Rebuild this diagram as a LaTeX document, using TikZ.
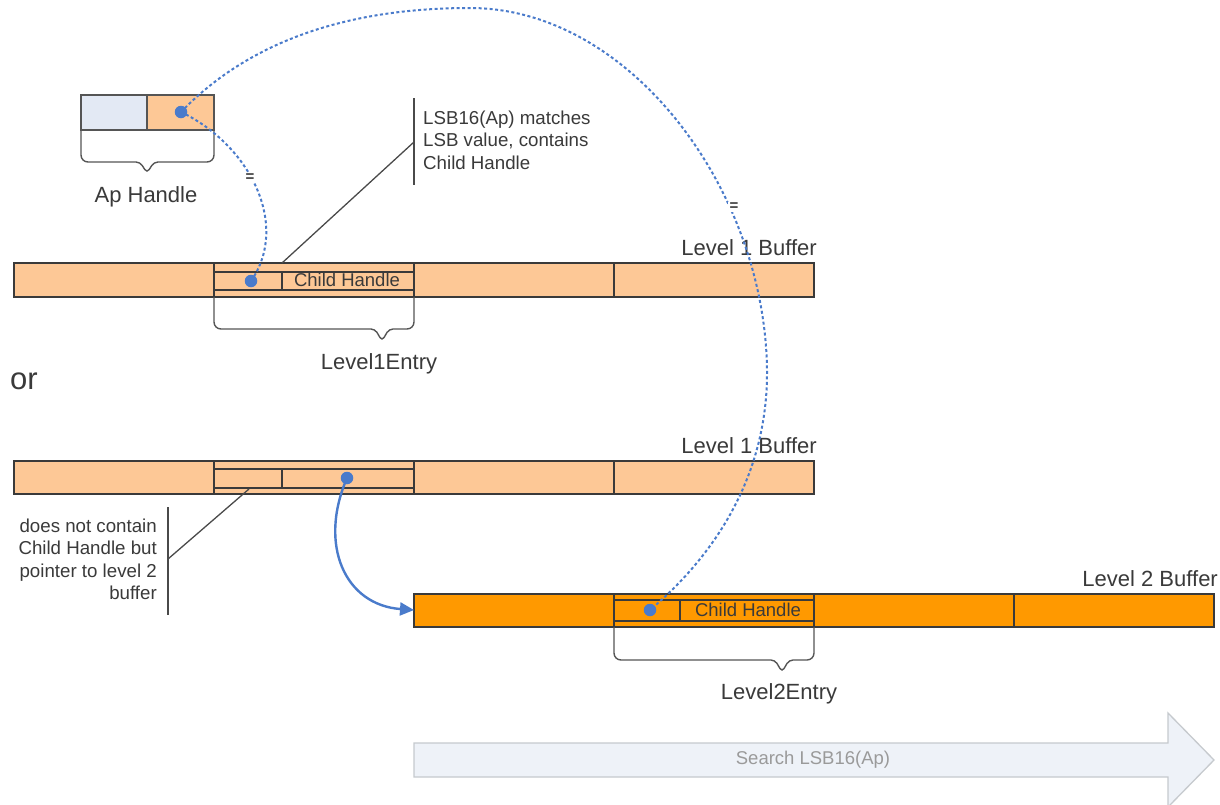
\documentclass[tikz,border=0pt]{standalone}
\usepackage{fontspec}
\setmainfont{Liberation Sans}
\usetikzlibrary{arrows.meta}

\definecolor{lightorange}{HTML}{FDC896}
\definecolor{deeporange}{HTML}{FF9900}
\definecolor{paleblue}{HTML}{E3E9F4}
\definecolor{edge}{HTML}{3A3A3A}
\definecolor{braceedge}{HTML}{555555}
\definecolor{leadgray}{HTML}{4A4A4A}
\definecolor{linkblue}{HTML}{4A7BCB}
\definecolor{txt}{HTML}{3A3A3A}
\definecolor{searchfill}{HTML}{EEF2F8}
\definecolor{searchedge}{HTML}{C6CACE}
\definecolor{searchtxt}{HTML}{9A9A9A}

\begin{document}
\begin{tikzpicture}[x=1pt,y=-1pt,
  outline/.style={draw=edge, line width=1.5pt},
  lbl/.style={text=txt, inner sep=0pt, font=\fontsize{22}{26}\selectfont},
  celltext/.style={text=txt, inner sep=0pt, font=\fontsize{18.5}{22}\selectfont},
  note/.style={text=txt, inner sep=0pt, font=\fontsize{18.7}{22.2}\selectfont},
  dot/.style={circle, fill=linkblue, inner sep=0pt, minimum size=12.5pt},
  eqlink/.style={draw=linkblue, line width=2pt, dash pattern=on 3pt off 2.5pt},
  pointer/.style={draw=linkblue, line width=2.4pt, -{Triangle[length=14pt,width=13pt]}},
  brace/.style={draw=braceedge, line width=1.4pt},
  leader/.style={draw=leadgray, line width=1.3pt},
  eqsign/.style={text=txt, fill=white, inner sep=1.5pt, font=\fontsize{15}{15}\selectfont\bfseries}
]
\useasboundingbox (0,0) rectangle (1220,804);
\fill[white] (0,0) rectangle (1220,804);

% ---------- Ap handle ----------
\fill[paleblue] (81,95) rectangle (147,130);
\fill[lightorange] (147,95) rectangle (214,130);
\draw[outline, draw=braceedge] (81,95) rectangle (214,130) (147,95) -- (147,130);
\draw[brace] (81,130) [rounded corners=7pt] -- (81,162) [rounded corners=4pt] -- (140,162) -- (147,173) -- (154,162) [rounded corners=7pt] -- (214,162) -- (214,130);
\node[lbl, anchor=base] (aplabel) at (146,202) {Ap Handle};

% ---------- Level 1 buffer (first case) ----------
\fill[lightorange] (14,263) rectangle (814,297);
\draw[outline] (14,263) rectangle (814,297);
\draw[outline] (214,263) -- (214,297) (414,263) -- (414,297) (614,263) -- (614,297)
  (214,272) -- (414,272) (214,290) -- (414,290) (282,272) -- (282,290);
\draw[brace] (214,297) [rounded corners=7pt] -- (214,329) [rounded corners=4pt] -- (375,329) -- (382,341) -- (389,329) [rounded corners=7pt] -- (414,329) -- (414,297);
\node[celltext] (l1child) at (347,280) {Child Handle};
\node[lbl, anchor=base east] (l1name) at (817,255) {Level 1 Buffer};
\node[lbl, anchor=base] (l1entry) at (379,369) {Level1Entry};

% ---------- "or" ----------
\node[text=txt, inner sep=0pt, font=\fontsize{31}{31}\selectfont] (orword) at (24,381) {or};

% ---------- Level 1 buffer (second case) ----------
\fill[lightorange] (14,461) rectangle (814,494);
\draw[outline] (14,461) rectangle (814,494);
\draw[outline] (214,461) -- (214,494) (414,461) -- (414,494) (614,461) -- (614,494)
  (214,469) -- (414,469) (214,488) -- (414,488) (282,469) -- (282,488);
\node[lbl, anchor=base east] (l1bname) at (817,453) {Level 1 Buffer};

% ---------- Level 2 buffer ----------
\fill[deeporange] (414,594) rectangle (1214,627);
\draw[outline] (414,594) rectangle (1214,627);
\draw[outline] (614,594) -- (614,627) (814,594) -- (814,627) (1014,594) -- (1014,627)
  (614,600) -- (814,600) (614,621) -- (814,621) (680,600) -- (680,621);
\draw[brace] (614,627) [rounded corners=7pt] -- (614,660) [rounded corners=4pt] -- (775,660) -- (782,672) -- (789,660) [rounded corners=7pt] -- (814,660) -- (814,627);
\node[celltext] (l2child) at (748,610) {Child Handle};
\node[lbl, anchor=base east] (l2name) at (1218,586) {Level 2 Buffer};
\node[lbl, anchor=base] (l2entry) at (779,699) {Level2Entry};

% ---------- callouts ----------
\draw[leader] (414,98) -- (414,185);
\coordinate (noteAfoot) at (414,142);
\coordinate (l1hit) at (282,263);
\draw[leader] (noteAfoot) -- (l1hit);
\node[note, anchor=north west, align=left] (noteA) at (423,111) {LSB16(Ap) matches\\LSB value, contains\\Child Handle};

\draw[leader] (168,507) -- (168,615);
\coordinate (noteBfoot) at (168,559);
\coordinate (l1bhit) at (249,489);
\draw[leader] (noteBfoot) -- (l1bhit);
\node[note, anchor=north east, align=right] (noteB) at (157,519) {does not contain\\Child Handle but\\pointer to level 2\\buffer};

% ---------- value markers and links ----------
\node[dot] (apdot) at (181,112) {};
\node[dot] (l1dot) at (251,281) {};
\node[dot] (l1bdot) at (347,478) {};
\node[dot] (l2dot) at (650,610) {};
\coordinate (arctop) at (470,8);
\coordinate (arcside) at (767,370);
\coordinate (l2in) at (414,610);

\draw[eqlink] (apdot.center) .. controls (250,145) and (290,225) .. (l1dot.center);
\draw[eqlink] (apdot.center) .. controls (260,30) and (370,8) .. (arctop)
  .. controls (630,8) and (765,190) .. (arcside)
  .. controls (768,475) and (715,555) .. (l2dot.center);
\node[eqsign] (eqA) at (250,178) {=};
\node[eqsign] (eqB) at (734,207) {=};

\draw[pointer] (l1bdot.center) .. controls (318,545) and (345,605) .. (l2in);

% ---------- search direction ----------
\draw[draw=searchedge, fill=searchfill, line width=1.3pt]
  (414,743) -- (1168,743) -- (1168,713) -- (1214,760) -- (1168,807) -- (1168,777) -- (414,777) -- cycle;
\node[text=searchtxt, inner sep=0pt, font=\fontsize{18.5}{22}\selectfont] (search) at (813,760) {Search LSB16(Ap)};
\end{tikzpicture}
\end{document}
